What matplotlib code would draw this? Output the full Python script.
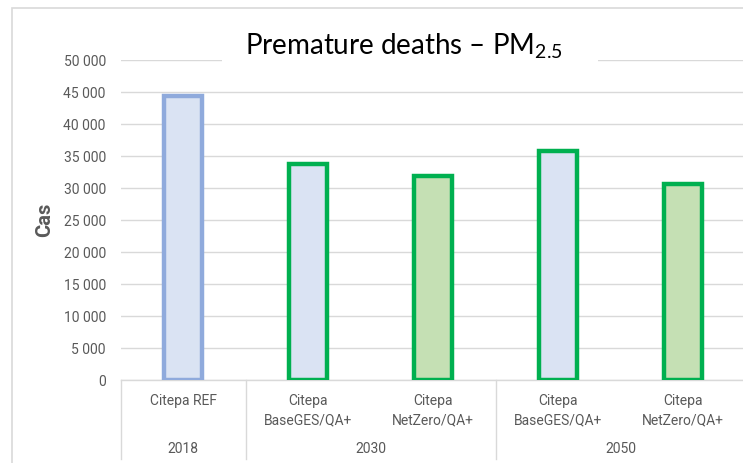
import matplotlib
matplotlib.use("Agg")
import matplotlib.pyplot as plt
from matplotlib.patches import Rectangle
from matplotlib.lines import Line2D
import matplotlib.transforms as mtransforms

# ---- data ----
scenarios = ["Citepa REF", "Citepa\nBaseGES/QA+", "Citepa\nNetZero/QA+",
             "Citepa\nBaseGES/QA+", "Citepa\nNetZero/QA+"]
years = ["2018", "2030", "2050"]
year_spans = [(0, 0), (1, 2), (3, 4)]
values = [44400, 33700, 31800, 35800, 30600]
yticks = [0, 5000, 10000, 15000, 20000, 25000, 30000, 35000, 40000, 45000, 50000]

fills = ["#dae3f3", "#dae3f3", "#c5e0b4", "#dae3f3", "#c5e0b4"]
edges = ["#8faadc", "#00b050", "#00b050", "#00b050", "#00b050"]

W, H = 743, 463
fig = plt.figure(figsize=(W / 100, H / 100), dpi=100)
plt.rcParams['mathtext.fontset'] = 'custom'
plt.rcParams['mathtext.rm'] = 'Lato'

FONT = "Roboto"
GREY = "#595959"

def fx(px):
    return px / W

def fy(py):
    return 1 - py / H

# chart frame
fig.patches.append(Rectangle((fx(12), fy(470)), fx(800) - fx(12), fy(8) - fy(470),
                             transform=fig.transFigure, fill=False,
                             edgecolor="#d9d9d9", linewidth=1.2, zorder=0))

left, right = 120.5, 745.5
top, bottom = 60, 380
ax = fig.add_axes([fx(left), fy(bottom), fx(right) - fx(left), (bottom - top) / H])
ax.set_facecolor("none")

x = list(range(len(values)))
ax.bar(x, values, width=0.3, color=fills, edgecolor=edges, linewidth=3.2, zorder=3)

ax.set_xlim(-0.5, len(values) - 0.5)
ax.set_ylim(0, 50000)
ax.set_yticks(yticks)
ax.set_yticklabels([f"{v:,}".replace(",", " ") for v in yticks],
                   fontsize=10, color=GREY, family=FONT)
ax.tick_params(axis="y", length=0, pad=10.6)
ax.set_xticks([])
ax.grid(axis="y", color="#d9d9d9", linewidth=1.0, zorder=0)
for s in ["top", "right", "left"]:
    ax.spines[s].set_visible(False)
ax.spines["bottom"].set_color("#d9d9d9")
ax.spines["bottom"].set_linewidth(1.0)

fig.text(fx(45), fy(220), "Cas", rotation=90, ha="center", va="center",
         fontsize=14.5, fontweight="bold", color=GREY, family=FONT)

# category labels (multi-level)
trans = mtransforms.blended_transform_factory(ax.transData, fig.transFigure)
for i, lab in enumerate(scenarios):
    ax.text(i, fy(394), lab, transform=trans, ha="center", va="top",
            fontsize=10, color=GREY, family=FONT, linespacing=1.45)
for (a, b), yr in zip(year_spans, years):
    ax.text((a + b) / 2, fy(449), yr, transform=trans, ha="center", va="center",
            fontsize=10, color=GREY, family=FONT)

for sep in [-0.5, 0.5, 2.5, 4.5]:
    fig.add_artist(Line2D([sep, sep], [fy(380), fy(459)], transform=trans,
                          color="#d9d9d9", linewidth=1.0))

# title with white background covering the top gridline
fig.patches.append(Rectangle((fx(222), fy(72)), fx(598) - fx(222), fy(28) - fy(72),
                             transform=fig.transFigure, facecolor="white",
                             edgecolor="none", zorder=4))
fig.text(fx(404), fy(46), r"Premature deaths – PM$_{\mathrm{2.5}}$",
         ha="center", va="center", fontsize=20, family="Lato", color="#000000",
         zorder=5)

fig.savefig("out.png", dpi=100)
